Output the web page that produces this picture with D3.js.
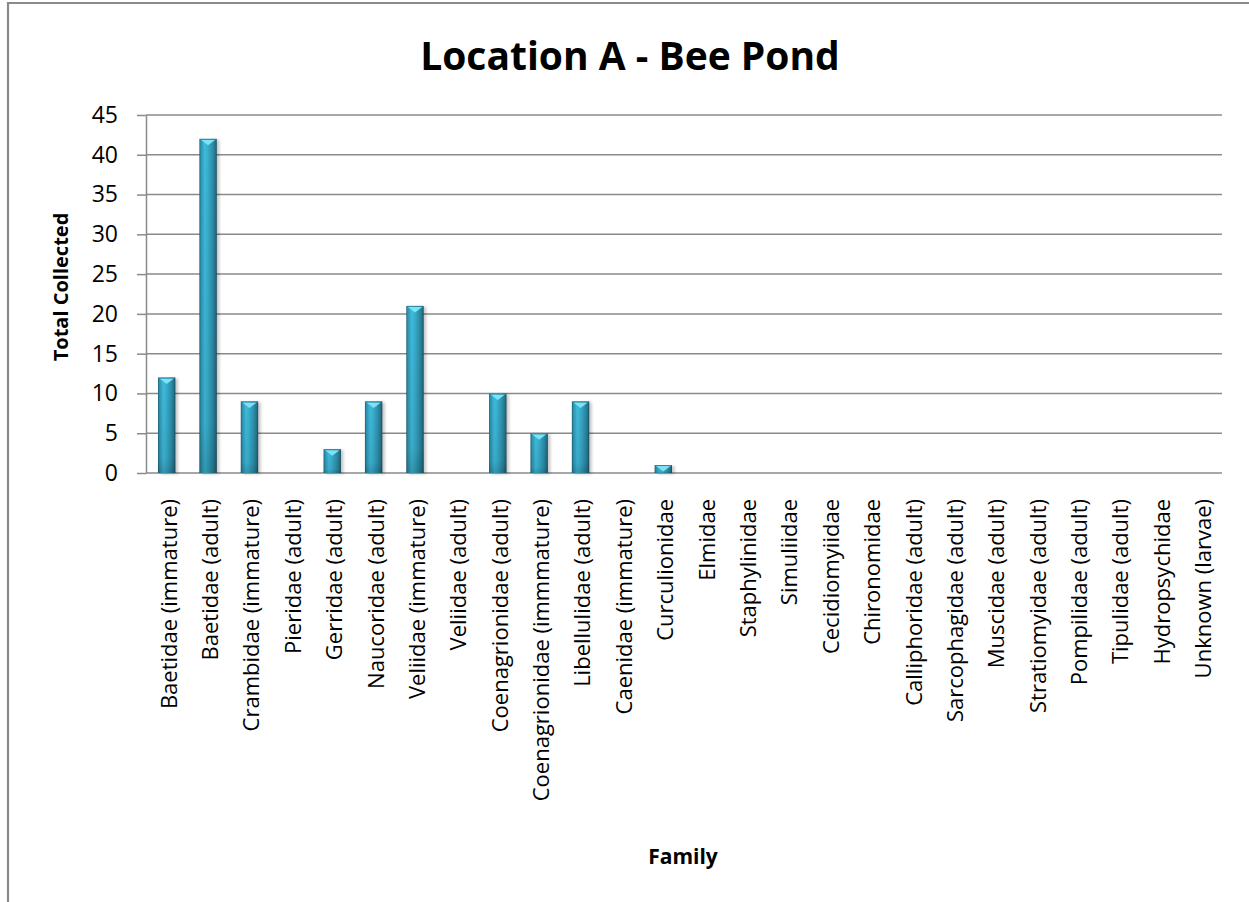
<!DOCTYPE html>
<html>
<head>
<meta charset="utf-8">
<script src="https://cdn.jsdelivr.net/npm/d3@7"></script>
<style>
  html, body { margin: 0; padding: 0; background: #fff; }
  svg { display: block; }
  text { font-family: "Open Sans", "Liberation Sans", sans-serif; fill: #000; }
</style>
</head>
<body>
<script>
// Macroinvertebrate families collected at the pond and their counts
const categories = [
  "Baetidae (immature)", "Baetidae (adult)", "Crambidae (immature)", "Pieridae (adult)",
  "Gerridae (adult)", "Naucoridae (adult)", "Veliidae (immature)", "Veliidae (adult)",
  "Coenagrionidae (adult)", "Coenagrionidae (immmature)", "Libellulidae (adult)",
  "Caenidae (immature)", "Curculionidae", "Elmidae", "Staphylinidae", "Simuliidae",
  "Cecidiomyiidae", "Chironomidae", "Calliphoridae (adult)", "Sarcophagidae (adult)",
  "Muscidae (adult)", "Stratiomyidae (adult)", "Pompilidae (adult)", "Tipulidae (adult)",
  "Hydropsychidae", "Unknown (larvae)"
];
const totals = [12, 42, 9, 0, 3, 9, 21, 0, 10, 5, 9, 0, 1, 0, 0, 0, 0, 0, 0, 0, 0, 0, 0, 0, 0, 0];
const yTicks = [0, 5, 10, 15, 20, 25, 30, 35, 40, 45];

const chartTitle = "Location A - Bee Pond";
const yTitle = "Total Collected";
const xTitle = "Family";

const W = 1249, H = 902;
const plot = { left: 146, right: 1222, top: 115, bottom: 473 };

const svg = d3.select("body").append("svg")
  .attr("width", W).attr("height", H);

const defs = svg.append("defs");

// Cylinder-like shading across each bar
const grad = defs.append("linearGradient").attr("id", "barGrad")
  .attr("x1", "0%").attr("x2", "100%").attr("y1", "0%").attr("y2", "0%");
[["0%", "#1c5f73"], ["8%", "#2c92b0"], ["30%", "#3fbadb"], ["45%", "#3ab2d2"],
 ["75%", "#2d8fab"], ["92%", "#247289"], ["100%", "#17485a"]]
  .forEach(([o, c]) => grad.append("stop").attr("offset", o).attr("stop-color", c));

// Darkening toward the base
const shade = defs.append("linearGradient").attr("id", "barShade")
  .attr("x1", "0%").attr("x2", "0%").attr("y1", "0%").attr("y2", "100%");
shade.append("stop").attr("offset", "0%").attr("stop-color", "#000").attr("stop-opacity", 0);
shade.append("stop").attr("offset", "85%").attr("stop-color", "#000").attr("stop-opacity", 0.08);
shade.append("stop").attr("offset", "100%").attr("stop-color", "#000").attr("stop-opacity", 0.2);

const blur = defs.append("filter").attr("id", "soft")
  .attr("x", "-50%").attr("y", "-10%").attr("width", "200%").attr("height", "130%");
blur.append("feGaussianBlur").attr("stdDeviation", 1.5);

// Outer frame (top and left edges visible)
svg.append("path")
  .attr("d", `M8,${H} L8,3 L${W},3`)
  .attr("fill", "none").attr("stroke", "#8a8a8a").attr("stroke-width", 2.2);

const x = d3.scaleBand()
  .domain(categories)
  .range([plot.left, plot.right])
  .paddingInner(0.58)
  .paddingOuter(0.29);

const y = d3.scaleLinear()
  .domain([0, 45])
  .range([plot.bottom, plot.top]);

// Horizontal gridlines
svg.append("g").selectAll("line")
  .data(yTicks)
  .join("line")
  .attr("x1", plot.left).attr("x2", plot.right)
  .attr("y1", d => y(d)).attr("y2", d => y(d))
  .attr("stroke", "#8a8a8a").attr("stroke-width", 1.5);

// Y axis with ticks
const yAxis = svg.append("g")
  .attr("transform", `translate(${plot.left},0)`)
  .call(d3.axisLeft(y).tickValues(yTicks).tickSize(9).tickPadding(19).tickSizeOuter(0));
yAxis.select(".domain").attr("stroke", "#8a8a8a").attr("stroke-width", 1.5);
yAxis.selectAll(".tick line").attr("stroke", "#8a8a8a").attr("stroke-width", 1.5);
yAxis.selectAll(".tick text")
  .attr("font-family", "Open Sans")
  .attr("font-size", 23)
  .attr("fill", "#000");

// Bars
const barData = categories.map((c, i) => ({ c, v: totals[i] })).filter(d => d.v > 0);
const bars = svg.append("g").selectAll("g.bar")
  .data(barData)
  .join("g").attr("class", "bar");

bars.append("rect")
  .attr("x", d => x(d.c) + 2.5)
  .attr("y", d => y(d.v) + 1)
  .attr("width", x.bandwidth())
  .attr("height", d => y(0) - y(d.v))
  .attr("fill", "#000").attr("opacity", 0.22)
  .attr("filter", "url(#soft)");

bars.append("rect")
  .attr("x", d => x(d.c))
  .attr("y", d => y(d.v))
  .attr("width", x.bandwidth())
  .attr("height", d => y(0) - y(d.v))
  .attr("fill", "url(#barGrad)");

bars.append("rect")
  .attr("x", d => x(d.c))
  .attr("y", d => y(d.v))
  .attr("width", x.bandwidth())
  .attr("height", d => y(0) - y(d.v))
  .attr("fill", "url(#barShade)");

// Bevelled top face
bars.append("path")
  .attr("d", d => {
    const x0 = x(d.c), x1 = x0 + x.bandwidth(), t = y(d.v);
    const h = Math.min(6.5, (y(0) - t) - 1);
    return `M${x0 + 1.5},${t + 1} L${x1 - 1.5},${t + 1} L${(x0 + x1) / 2},${t + h} Z`;
  })
  .attr("fill", "#7ce2f6");
bars.append("line")
  .attr("x1", d => x(d.c) + 0.5).attr("x2", d => x(d.c) + x.bandwidth() - 0.5)
  .attr("y1", d => y(d.v) + 0.5).attr("y2", d => y(d.v) + 0.5)
  .attr("stroke", "#2b8aa5").attr("stroke-width", 1);

// Category labels, rotated
svg.append("g").selectAll("text")
  .data(categories)
  .join("text")
  .attr("transform", d => `translate(${x(d) + x.bandwidth() / 2 + 2},499) rotate(-90)`)
  .attr("text-anchor", "end")
  .attr("dy", "0.36em")
  .attr("font-size", 22)
  .text(d => d);

// Titles
svg.append("text")
  .attr("x", 630).attr("y", 70)
  .attr("text-anchor", "middle")
  .attr("font-size", 39).attr("font-weight", 700)
  .text(chartTitle);

svg.append("text")
  .attr("transform", "translate(68,287) rotate(-90)")
  .attr("text-anchor", "middle")
  .attr("font-size", 20).attr("font-weight", 700)
  .text(yTitle);

svg.append("text")
  .attr("x", 683).attr("y", 864)
  .attr("text-anchor", "middle")
  .attr("font-size", 21).attr("font-weight", 700)
  .text(xTitle);
</script>
</body>
</html>
